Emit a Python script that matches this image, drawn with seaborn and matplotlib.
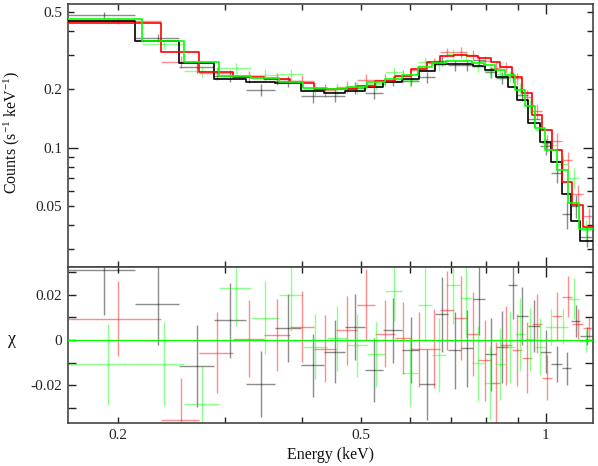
import numpy as np
import pandas as pd
import matplotlib
matplotlib.use("Agg")
import matplotlib.pyplot as plt
import seaborn as sns
from matplotlib.ticker import FixedLocator, FixedFormatter, NullFormatter

# ---------------- data ----------------
black_edges = [0.1659, 0.2137, 0.2519, 0.2874, 0.3240, 0.3612, 0.3992, 0.4340, 0.4706, 0.5073,
               0.5430, 0.5833, 0.6219, 0.6597, 0.6937, 0.7276, 0.7621, 0.7964, 0.8311, 0.8694,
               0.8971, 0.9350, 0.9797, 1.0212, 1.0628, 1.1011, 1.1390, 1.198]
black_model = [0.451, 0.353, 0.273, 0.225, 0.218, 0.215, 0.196, 0.191, 0.197, 0.205,
               0.217, 0.226, 0.250, 0.269, 0.271, 0.270, 0.264, 0.252, 0.232, 0.206,
               0.176, 0.134, 0.107, 0.085, 0.058, 0.042, 0.033]
black_resid = [0.031, 0.0159, -0.0115, 0.0087, -0.0196, 0.0054, -0.0112, -0.0051, 0.0057, -0.0131,
               0.0043, -0.0043, -0.0196, 0.0113, -0.0046, -0.0037, 0.0182, -0.0063, -0.0031, 0.0243,
               0.0106, 0.0062, -0.0051, -0.0107, -0.0125, 0.0084, 0.0018]
black_err = [0.020, 0.018, 0.018, 0.0166, 0.0146, 0.015, 0.0138, 0.0139, 0.0145, 0.0141,
             0.0143, 0.0145, 0.0158, 0.0165, 0.017, 0.017, 0.016, 0.0162, 0.016, 0.015,
             0.013, 0.0115, 0.0096, 0.008, 0.0073, 0.007, 0.004]

red_edges = [0.1659, 0.2354, 0.2716, 0.3087, 0.3463, 0.3826, 0.4188, 0.4550, 0.4924, 0.5269,
             0.5681, 0.6034, 0.6409, 0.6723, 0.7094, 0.7450, 0.7765, 0.8146, 0.8427, 0.8803,
             0.9141, 0.9491, 0.9880, 1.0260, 1.0654, 1.1063, 1.1530, 1.198]
red_model = [0.439, 0.312, 0.247, 0.231, 0.225, 0.216, 0.202, 0.202, 0.209, 0.221,
             0.234, 0.255, 0.277, 0.297, 0.300, 0.298, 0.289, 0.278, 0.262, 0.232,
             0.191, 0.147, 0.123, 0.098, 0.067, 0.051, 0.039]
red_resid = [0.0094, -0.0353, -0.0056, 0.0006, 0.0021, 0.0059, -0.0038, 0.0043, 0.0157, 0.0028,
             0.0010, -0.0041, -0.0038, 0.0131, 0.0099, 0.0025, -0.0090, -0.0190, -0.0024, -0.0044,
             -0.0078, 0.0072, -0.0166, 0.0106, 0.0191, 0.0069, 0.0054]
red_err = [0.0165, 0.0187, 0.018, 0.017, 0.016, 0.0158, 0.0149, 0.0152, 0.0159, 0.0149,
           0.016, 0.0165, 0.0175, 0.0176, 0.0186, 0.0186, 0.018, 0.018, 0.0176, 0.016,
           0.0158, 0.013, 0.010, 0.0106, 0.009, 0.0066, 0.0044]

green_edges = [0.1659, 0.2194, 0.2564, 0.2932, 0.3304, 0.3671, 0.4018, 0.4398, 0.4742, 0.5113,
               0.5471, 0.5833, 0.6195, 0.6531, 0.6884, 0.7249, 0.7593, 0.7943, 0.8270, 0.8596,
               0.8926, 0.9268, 0.9624, 0.9993, 1.0427, 1.0899, 1.1318, 1.198]
green_model = [0.462, 0.353, 0.276, 0.234, 0.228, 0.219, 0.203, 0.201, 0.206, 0.219,
               0.225, 0.237, 0.262, 0.272, 0.281, 0.281, 0.272, 0.267, 0.251, 0.237,
               0.198, 0.164, 0.126, 0.097, 0.077, 0.052, 0.038]
green_resid = [-0.0107, -0.0107, -0.0284, 0.0231, 0.0099, 0.0201, -0.0029, 0.0007, -0.0024, -0.0063,
               0.0216, -0.0147, 0.0157, -0.0066, 0.0243, 0.0184, -0.0103, -0.0191, -0.0107, -0.0030,
               0.0025, 0.0003, -0.0029, 0.0059, 0.0059, 0.0182, -0.0004]
green_err = [0.0178, 0.0185, 0.017, 0.017, 0.016, 0.016, 0.0143, 0.0142, 0.0141, 0.0143,
             0.0132, 0.0149, 0.016, 0.0165, 0.017, 0.017, 0.0165, 0.0164, 0.016, 0.016,
             0.016, 0.014, 0.0125, 0.008, 0.0077, 0.009, 0.005]

x_major = [1.0]
x_minor = [0.2, 0.3, 0.4, 0.5, 0.6, 0.7, 0.8, 0.9]
x_minor_labels = ['0.2', '', '', '0.5', '', '', '', '']
y_major = [0.1]
y_minor = [0.03, 0.04, 0.05, 0.06, 0.07, 0.08, 0.09, 0.2, 0.3, 0.4, 0.5]
y_minor_labels = ['', '', '0.05', '', '', '', '', '0.2', '', '', '0.5']
r_major = [-0.02, 0.0, 0.02]
r_major_labels = ['-0.02', '0', '0.02']
r_minor = [-0.03, -0.01, 0.01, 0.03]

# ---------------- style ----------------
sns.set_theme(style="ticks")
plt.rcParams['font.family'] = ['Liberation Serif', 'DejaVu Serif']
plt.rcParams['mathtext.fontset'] = 'custom'
plt.rcParams['mathtext.rm'] = 'Liberation Serif'
plt.rcParams['mathtext.it'] = 'Liberation Serif:italic'

fig = plt.figure(figsize=(5.98, 4.66), dpi=100)
ax1 = fig.add_axes([0.1137, 0.4281, 0.8779, 0.5633])
ax2 = fig.add_axes([0.1137, 0.0916, 0.8779, 0.3365], sharex=ax1)

series = [
    (black_edges, black_model, black_resid, black_err, '#000000'),
    (red_edges, red_model, red_resid, red_err, '#ff0000'),
    (green_edges, green_model, green_resid, green_err, '#00ff00'),
]

for edges, model, resid, err, color in series:
    e = np.array(edges)
    lo, hi = e[:-1], e[1:]
    ctr = (lo + hi) / 2
    data = np.array(model) + np.array(resid)
    ax1.errorbar(ctr, data, xerr=[ctr - lo, hi - ctr], yerr=err, fmt='none',
                 ecolor=color, alpha=0.45, elinewidth=1.0, capsize=0, zorder=2)
    ax2.errorbar(ctr, resid, xerr=[ctr - lo, hi - ctr], yerr=err, fmt='none',
                 ecolor=color, alpha=0.45, elinewidth=1.0, capsize=0, zorder=2)

for edges, model, resid, err, color in series:
    df = pd.DataFrame({'E': edges, 'C': list(model) + [model[-1]]})
    sns.lineplot(data=df, x='E', y='C', drawstyle='steps-post', color=color,
                 lw=1.2, ax=ax1, estimator=None, sort=False, zorder=3)

ax2.axhline(0, color='#00ff00', lw=0.9, zorder=3)

ax1.set_xscale('log')
ax1.set_yscale('log')
ax1.set_xlim(0.166, 1.195)
ax1.set_ylim(0.0245, 0.55)
ax2.set_ylim(-0.0368, 0.0325)

ax2.xaxis.set_major_locator(FixedLocator(x_major))
ax2.xaxis.set_major_formatter(FixedFormatter(['1']))
ax2.xaxis.set_minor_locator(FixedLocator(x_minor))
ax2.xaxis.set_minor_formatter(FixedFormatter(x_minor_labels))

ax1.yaxis.set_major_locator(FixedLocator(y_major))
ax1.yaxis.set_major_formatter(FixedFormatter(['0.1']))
ax1.yaxis.set_minor_locator(FixedLocator(y_minor))
ax1.yaxis.set_minor_formatter(FixedFormatter(y_minor_labels))

ax2.yaxis.set_major_locator(FixedLocator(r_major))
ax2.yaxis.set_major_formatter(FixedFormatter(r_major_labels))
ax2.yaxis.set_minor_locator(FixedLocator(r_minor))
ax2.yaxis.set_minor_formatter(NullFormatter())

for ax in (ax1, ax2):
    ax.tick_params(which='both', direction='in', top=True, right=True,
                   labelsize=11, colors='#222222', width=1.0, pad=4)
    ax.tick_params(which='major', length=7)
    ax.tick_params(which='minor', length=4)
    for s in ax.spines.values():
        s.set_color('#444444')
        s.set_linewidth(1.2)
    ax.set_xlabel('')
    ax.set_ylabel('')

ax2.tick_params(which='minor', axis='y', length=6)
ax2.tick_params(which='major', axis='y', length=6)
ax1.tick_params(which='both', labelbottom=False)

fig.text(0.02, 0.715, r'Counts (s$^{-1}$ keV$^{-1}$)', rotation=90, ha='center', va='center',
         fontsize=11.5, color='#111111')
fig.text(0.02, 0.272, 'χ', ha='center', va='center', fontsize=13, color='#111111')
fig.text(0.553, 0.024, 'Energy (keV)', ha='center', va='center', fontsize=11.5, color='#111111')

fig.savefig('out.png', dpi=100)
